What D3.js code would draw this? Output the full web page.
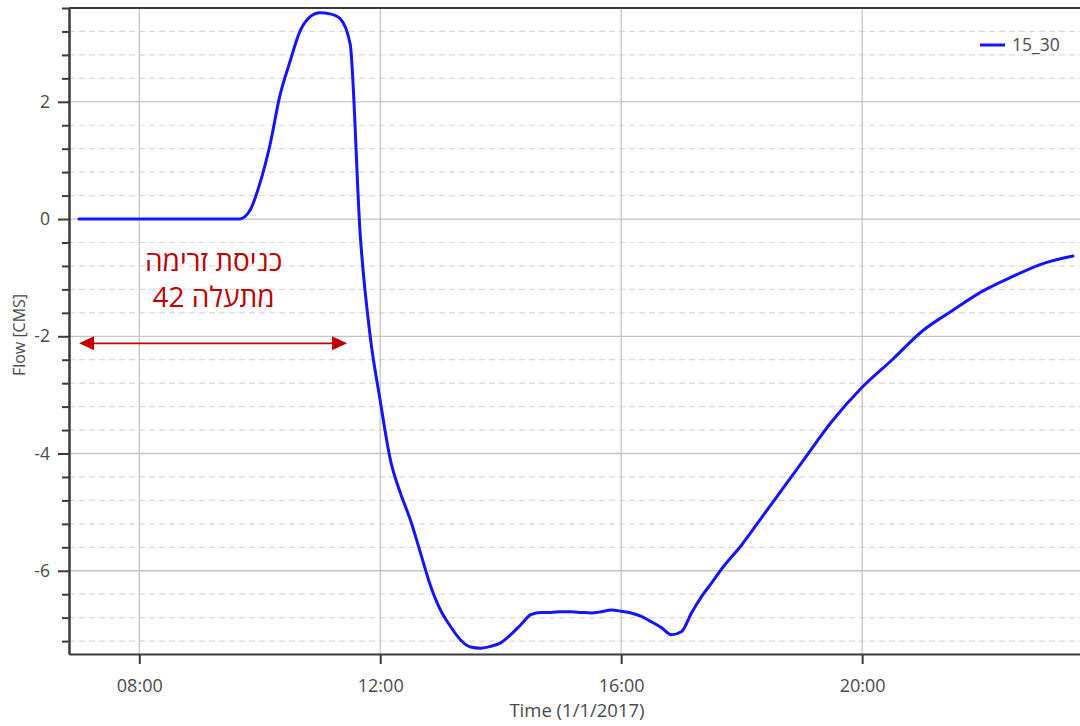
<!DOCTYPE html>
<html><head><meta charset="utf-8">
<script src="https://cdn.jsdelivr.net/npm/d3@7"></script>
<style>
html,body{margin:0;padding:0;background:#fff;}
svg{display:block;font-family:"Open Sans","Noto Sans",sans-serif;}
</style></head>
<body><svg id="chart" width="1080" height="726"></svg>
<script>
// ---- data ----
const seriesName = "15_30";
const times = ["07:00","09:40","09:50","10:00","10:10","10:20","10:30","10:40","10:50","11:00","11:10","11:20","11:30","11:40","11:50","12:00","12:10","12:20","12:30","12:40","12:50","13:00","13:10","13:20","13:30","13:40","13:50","14:00","14:10","14:20","14:30","14:40","14:50","15:00","15:10","15:20","15:30","15:40","15:50","16:00","16:10","16:20","16:30","16:40","16:50","17:00","17:10","17:20","17:30","17:40","18:00","18:20","18:40","19:00","19:30","20:00","20:30","21:00","21:30","22:00","22:30","23:00","23:30"];
const flows = [0,0,0.14,0.6,1.25,2.1,2.68,3.2,3.45,3.52,3.5,3.42,2.99,-0.25,-2.0,-3.1,-4.1,-4.67,-5.13,-5.69,-6.25,-6.67,-6.95,-7.18,-7.3,-7.32,-7.29,-7.23,-7.09,-6.92,-6.75,-6.71,-6.71,-6.7,-6.7,-6.71,-6.72,-6.7,-6.67,-6.69,-6.72,-6.78,-6.87,-6.97,-7.09,-7.04,-6.72,-6.44,-6.21,-5.97,-5.56,-5.09,-4.62,-4.15,-3.45,-2.87,-2.4,-1.91,-1.56,-1.23,-0.98,-0.76,-0.63];
const xTickLabels = ["08:00","12:00","16:00","20:00"];
const yMajorTicks = [-6,-4,-2,0,2];
const yMinorTicks = [-7.2,-6.8,-6.4,-5.6,-5.2,-4.8,-4.4,-3.6,-3.2,-2.8,-2.4,-1.6,-1.2,-0.8,-0.4,0.4,0.8,1.2,1.6,2.4,2.8,3.2,3.6];
const xDomain = ["06:50","23:37"];
const yDomain = [-7.42, 3.6];
const annotationLines = ["כניסת זרימה","מתעלה 42"];
const annotationCenterTime = "09:14";
const arrowSpan = ["07:00","11:27"];
const arrowValue = -2.12;
const xTitle = "Time (1/1/2017)";
const yTitle = "Flow [CMS]";

// ---- helpers ----
const parse = s => { const [h,m] = s.split(":").map(Number); return new Date(2017,0,1,h,m); };
const data = times.map((t,i)=>({t:parse(t), v:flows[i]}));

const W=1080,H=726, L=69, T=8, R=1080, B=654;
const svg = d3.select("#chart");
const x = d3.scaleTime().domain(xDomain.map(parse)).range([L,R]);
const y = d3.scaleLinear().domain(yDomain).range([B,T]);
const textCol = "#4a4a4a";

// minor grid (dashed)
svg.append("g").selectAll("line").data(yMinorTicks).join("line")
  .attr("x1",L).attr("x2",R).attr("y1",d=>y(d)).attr("y2",d=>y(d))
  .attr("stroke","#d9d9d9").attr("stroke-width",1.2).attr("stroke-dasharray","6,4");
// major grid
svg.append("g").selectAll("line").data(yMajorTicks).join("line")
  .attr("x1",L).attr("x2",R).attr("y1",d=>y(d)).attr("y2",d=>y(d))
  .attr("stroke","#c4c4c4").attr("stroke-width",1.3);
svg.append("g").selectAll("line").data(xTickLabels).join("line")
  .attr("x1",d=>x(parse(d))).attr("x2",d=>x(parse(d))).attr("y1",T).attr("y2",B)
  .attr("stroke","#c4c4c4").attr("stroke-width",1.3);

// axes
const xAxis = d3.axisBottom(x).tickValues(xTickLabels.map(parse)).tickFormat(d3.timeFormat("%H:%M")).tickSize(10).tickSizeOuter(0).tickPadding(15);
const gx = svg.append("g").attr("transform",`translate(0,${B})`).call(xAxis);
const yAxis = d3.axisLeft(y).tickValues(yMajorTicks).tickFormat(d3.format("d")).tickSize(11).tickSizeOuter(0).tickPadding(8);
const gy = svg.append("g").attr("transform",`translate(${L},0)`).call(yAxis);
const yMinorAxis = d3.axisLeft(y).tickValues(yMinorTicks).tickFormat("").tickSize(7).tickSizeOuter(0);
const gym = svg.append("g").attr("transform",`translate(${L},0)`).call(yMinorAxis);
[gx,gy,gym].forEach(g=>{
  g.select(".domain").attr("stroke","#3a3a3a").attr("stroke-width",2);
  g.selectAll(".tick line").attr("stroke","#3a3a3a").attr("stroke-width",2);
  g.selectAll(".tick text").attr("fill",textCol).attr("font-size",18).attr("font-family","'Open Sans',sans-serif");
});
gy.selectAll(".tick text").attr("font-size",17.5).text(d=>d<0?"-"+Math.abs(d):d);
// top border
svg.append("line").attr("x1",L).attr("x2",R).attr("y1",T).attr("y2",T).attr("stroke","#3a3a3a").attr("stroke-width",2);

// titles
svg.append("text").attr("x",577).attr("y",717).attr("text-anchor","middle")
  .attr("font-size",18.5).attr("fill",textCol).text(xTitle);
svg.append("text").attr("transform",`translate(25,${335}) rotate(-90)`).attr("text-anchor","middle")
  .attr("font-size",16).attr("fill",textCol).text(yTitle);

// series
svg.append("path").datum(data)
  .attr("d", d3.line().curve(d3.curveMonotoneX).x(d=>x(d.t)).y(d=>y(d.v)))
  .attr("fill","none").attr("stroke","#1414ff").attr("stroke-width",3).attr("stroke-linejoin","round").attr("stroke-linecap","round");

// legend
svg.append("line").attr("x1",980).attr("x2",1005).attr("y1",45).attr("y2",45).attr("stroke","#1414ff").attr("stroke-width",3);
svg.append("text").attr("x",1012).attr("y",51).attr("font-size",17.5).attr("fill",textCol).text(seriesName);

// annotation
const red = "#c00000";
const cx = x(parse(annotationCenterTime));
svg.append("g").selectAll("text").data(annotationLines).join("text")
  .attr("x",cx).attr("y",(d,i)=>271+i*36).attr("text-anchor","middle").attr("direction","rtl")
  .attr("font-size",28).attr("fill",red).attr("font-family","'Open Sans','Noto Sans',sans-serif").text(d=>d);
const ax1 = x(parse(arrowSpan[0])), ax2 = x(parse(arrowSpan[1])), ay = y(arrowValue);
svg.append("line").attr("x1",ax1+8).attr("x2",ax2-8).attr("y1",ay).attr("y2",ay).attr("stroke",red).attr("stroke-width",1.8);
svg.append("path").attr("d",`M${ax1},${ay}L${ax1+15},${ay-7}L${ax1+15},${ay+7}Z`).attr("fill",red);
svg.append("path").attr("d",`M${ax2},${ay}L${ax2-15},${ay-7}L${ax2-15},${ay+7}Z`).attr("fill",red);
</script></body></html>
